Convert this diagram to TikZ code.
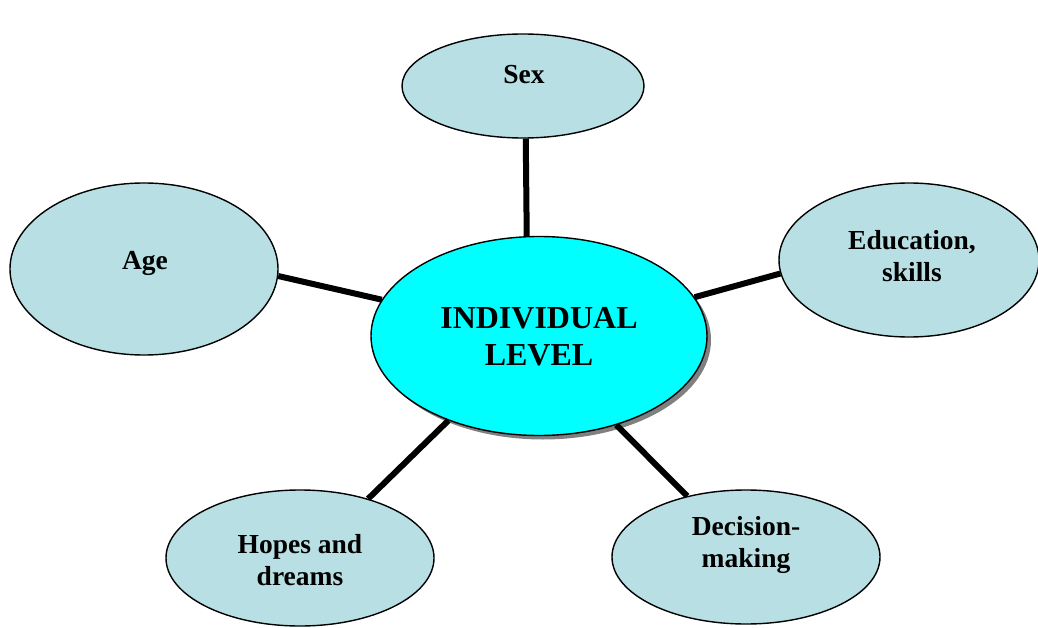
\documentclass[tikz,border=0pt]{standalone}
\usepackage{fontspec}
\setmainfont{Liberation Serif}
\usetikzlibrary{shapes.geometric,shadows}
\definecolor{outerfill}{RGB}{184,223,227}
\definecolor{centerfill}{RGB}{0,255,255}
\definecolor{shadowgray}{RGB}{128,128,128}
\tikzset{
  oval/.style={ellipse, draw=black, line width=1.4pt, fill=outerfill, inner sep=0pt},
  lbl/.style={align=center, font=\bfseries\fontsize{27.5}{31.6}\selectfont, inner sep=0pt},
  mainlbl/.style={align=center, font=\bfseries\fontsize{32}{37}\selectfont, inner sep=0pt},
  link/.style={line width=6pt, black}
}
\begin{document}
\begin{tikzpicture}[x=1pt,y=-1pt]
\useasboundingbox (0,0) rectangle (1038,628);
% center
\node[oval, fill=centerfill, minimum width=336pt, minimum height=199pt,
  drop shadow={shadow xshift=4pt, shadow yshift=-4pt, fill=shadowgray, opacity=1}] (c) at (539,336) {};
\node[mainlbl] (cT) at (539,337) {INDIVIDUAL\\LEVEL};
% outer
\node[oval, minimum width=242pt, minimum height=104pt] (sex) at (523,86) {};
\node[lbl] (sexT) at (524,75) {Sex};
\node[oval, minimum width=268pt, minimum height=172pt] (age) at (144,269) {};
\node[lbl] (ageT) at (145,263) {Age};
\node[oval, minimum width=260pt, minimum height=154pt] (edu) at (909,260) {};
\node[lbl] (eduT) at (912,256) {Education,\\skills};
\node[oval, minimum width=268pt, minimum height=136pt] (hop) at (300,558) {};
\node[lbl] (hopT) at (300,560) {Hopes and\\dreams};
\node[oval, minimum width=268pt, minimum height=134pt] (dec) at (746,557) {};
\node[lbl] (decT) at (746,545) {Decision-\\making};
% links
\draw[link] (sex.-87) -- (c.97.5);
\draw[link] (age.-3.4) -- (c.167.2);
\draw[link] (edu.-174.2) -- (c.14.7);
\draw[link] (hop.41.5) -- (c.-137.8);
\draw[link] (dec.134.5) -- (c.-49.5);
\end{tikzpicture}
\end{document}
